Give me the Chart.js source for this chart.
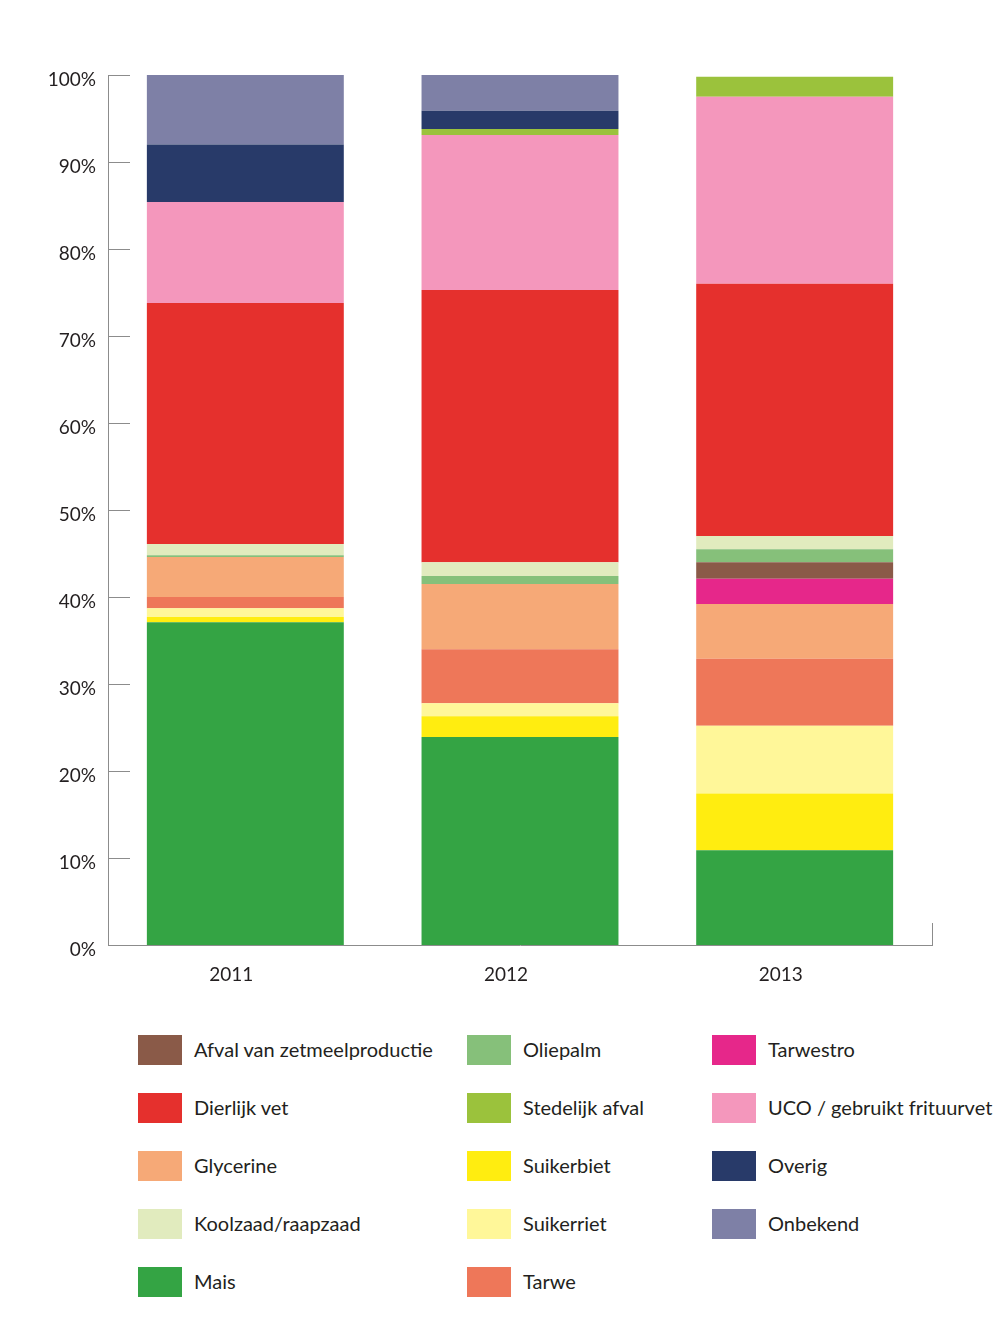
<!DOCTYPE html>
<html>
<head>
<meta charset="utf-8">
<script src="https://cdn.jsdelivr.net/npm/chart.js@4"></script>
<style>
  body { margin: 0; background: #fff; font-family: Lato, "Open Sans", sans-serif; }
  #wrap { position: relative; width: 995px; height: 1343px; }
  #chart { position: absolute; left: 0; top: 0; }
  .item { position: absolute; height: 30px; display: flex; align-items: center; white-space: nowrap; }
  .sw { width: 44px; height: 30px; margin-right: 12px; flex: none; }
  .lbl { font-size: 20px; color: #231f20; margin-top: -3px; }
</style>
</head>
<body>
<div id="wrap">
  <canvas id="chart" width="995" height="1000"></canvas>
  <div id="legend"></div>
</div>
<script>
// years on the x axis
var years = ['2011', '2012', '2013'];

// share per feedstock, in %, bottom of the stack first
var mais        = [37.1, 23.9, 10.9];
var suikerbiet  = [0.6, 2.4, 6.5];
var suikerriet  = [1.0, 1.5, 7.8];
var tarwe       = [1.3, 6.2, 7.7];
var glycerine   = [4.6, 7.5, 6.3];
var tarwestro   = [0, 0, 2.9];
var afval       = [0, 0, 1.9];
var oliepalm    = [0.2, 0.9, 1.5];
var koolzaad    = [1.3, 1.6, 1.5];
var dierlijkVet = [27.7, 31.3, 29.0];
var uco         = [11.6, 17.8, 21.5];
var stedelijk   = [0, 0.7, 2.3];
var overig      = [6.6, 2.1, 0];
var onbekend    = [8.0, 4.1, 0];

// y axis ticks
var yTicks = [0, 10, 20, 30, 40, 50, 60, 70, 80, 90, 100];

var series = [
    { label: 'Mais', data: mais, color: '#34a444' },
    { label: 'Suikerbiet', data: suikerbiet, color: '#ffed10' },
    { label: 'Suikerriet', data: suikerriet, color: '#fff799' },
    { label: 'Tarwe', data: tarwe, color: '#ee7759' },
    { label: 'Glycerine', data: glycerine, color: '#f6a977' },
    { label: 'Tarwestro', data: tarwestro, color: '#e6278a' },
    { label: 'Afval van zetmeelproductie', data: afval, color: '#8a5a48' },
    { label: 'Oliepalm', data: oliepalm, color: '#86c07a' },
    { label: 'Koolzaad/raapzaad', data: koolzaad, color: '#e1ebbe' },
    { label: 'Dierlijk vet', data: dierlijkVet, color: '#e5302d' },
    { label: 'UCO / gebruikt frituurvet', data: uco, color: '#f497bc' },
    { label: 'Stedelijk afval', data: stedelijk, color: '#9bc23c' },
    { label: 'Overig', data: overig, color: '#283a69' },
    { label: 'Onbekend', data: onbekend, color: '#7e80a6' }
];

// legend order, column by column
var legendOrder = [
    'Afval van zetmeelproductie', 'Dierlijk vet', 'Glycerine', 'Koolzaad/raapzaad', 'Mais',
    'Oliepalm', 'Stedelijk afval', 'Suikerbiet', 'Suikerriet', 'Tarwe',
    'Tarwestro', 'UCO / gebruikt frituurvet', 'Overig', 'Onbekend'
];

var datasets = [];
for (var i in series) {
    datasets.push({
        label: series[i].label,
        data: series[i].data,
        backgroundColor: series[i].color,
        borderWidth: 0,
        barPercentage: 0.717,
        categoryPercentage: 1.0
    });
}

// short tick marks pointing into the plot, plus the small mark at the right end
var axisMarks = {
    id: 'axisMarks',
    afterDraw: function(chart) {
        var ctx = chart.ctx;
        var y = chart.scales.y;
        var area = chart.chartArea;
        ctx.save();
        ctx.strokeStyle = '#8c8c8c';
        ctx.lineWidth = 1;
        ctx.beginPath();
        for (var i in yTicks) {
            var py = Math.round(y.getPixelForValue(yTicks[i])) + 0.5;
            ctx.moveTo(area.left, py);
            ctx.lineTo(area.left + 22, py);
        }
        ctx.moveTo(area.right + 0.5, area.bottom);
        ctx.lineTo(area.right + 0.5, area.bottom - 22);
        ctx.stroke();
        ctx.restore();
    }
};

var ctx = document.getElementById('chart');
var chart = new Chart(ctx, {
    type: 'bar',
    data: { labels: years, datasets: datasets },
    options: {
        responsive: false,
        animation: false,
        layout: { padding: { top: 75, right: 63, left: 0, bottom: 0 } },
        plugins: { legend: { display: false }, tooltip: { enabled: false } },
        scales: {
            x: {
                stacked: true,
                grid: { display: false, drawTicks: false },
                border: { display: true, color: '#8c8c8c', width: 1 },
                ticks: {
                    color: '#231f20',
                    font: { family: 'Lato', size: 19 },
                    padding: 18,
                    labelOffset: -14
                },
                afterFit: function(s) { s.height = 55; }
            },
            y: {
                stacked: true,
                min: 0,
                max: 100,
                grid: { display: false, drawTicks: false },
                border: { display: true, color: '#8c8c8c', width: 1 },
                ticks: {
                    stepSize: 10,
                    color: '#231f20',
                    font: { family: 'Lato', size: 19 },
                    padding: 12,
                    labelOffset: 5,
                    callback: function(v) { return v + '%'; }
                },
                afterFit: function(s) { s.width = 108; }
            }
        }
    },
    plugins: [axisMarks]
});

// html legend, three columns of five rows
var colX = [138, 467, 712];
var legend = document.getElementById('legend');
for (var k = 0; k < legendOrder.length; k++) {
    var s = series.filter(function(d) { return d.label === legendOrder[k]; })[0];
    var item = document.createElement('div');
    item.className = 'item';
    item.style.left = colX[Math.floor(k / 5)] + 'px';
    item.style.top = (1035 + (k % 5) * 58) + 'px';
    item.innerHTML = '<div class="sw" style="background:' + s.color + '"></div><span class="lbl">' + s.label + '</span>';
    legend.appendChild(item);
}
</script>
</body>
</html>
